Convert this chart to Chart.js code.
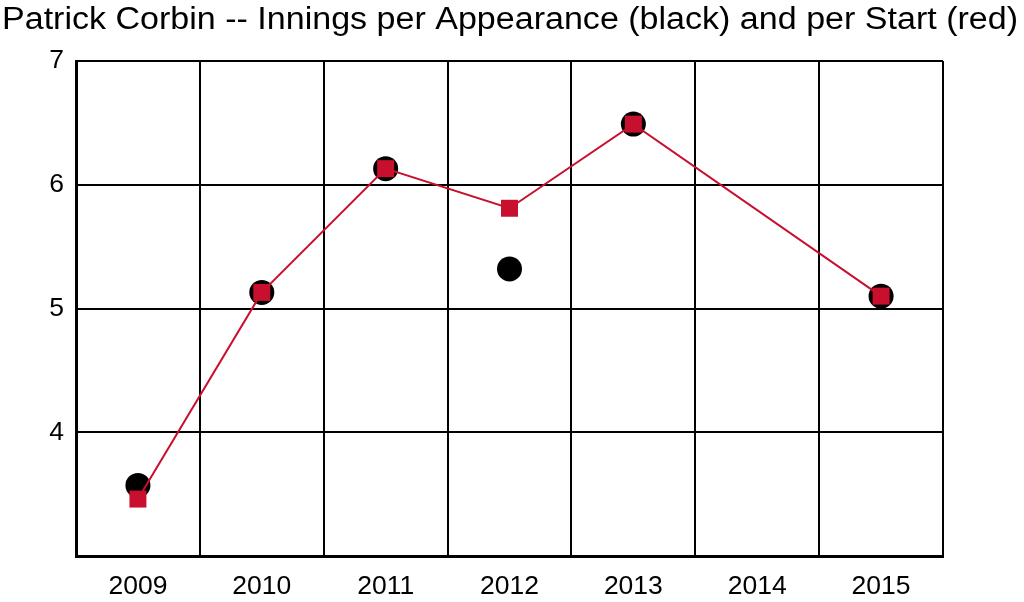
<!DOCTYPE html>
<html lang="en">
<head>
  <meta charset="UTF-8">
  <title>Patrick Corbin -- Innings per Appearance and per Start</title>
  <style>
    html, body { margin: 0; padding: 0; background: #fff; }
    #wrap { width: 1024px; height: 602px; }
  </style>
</head>
<body>
  <div id="wrap"><canvas id="myChart" width="1024" height="602"></canvas></div>

  <script src="https://cdn.jsdelivr.net/npm/chart.js"></script>
  <script>
    // Data
    var years = ['2009', '2010', '2011', '2012', '2013', '2014', '2015'];
    var perAppearance = [3.57, 5.13, 6.13, 5.32, 6.49, null, 5.10];
    var perStart = [3.46, 5.13, 6.13, 5.81, 6.49, null, 5.10];
    var yTicks = [4, 5, 6, 7];

    var titleText = 'Patrick Corbin -- Innings per Appearance (black) and per Start (red)';
    var fontFamily = '"Liberation Sans", Arial, sans-serif';

    // Title drawn by hand at top left, stretched to the reference width
    var titlePlugin = {
      id: 'topTitle',
      afterDraw: function (chart) {
        var ctx = chart.ctx;
        ctx.save();
        ctx.font = '31px ' + fontFamily;
        ctx.fillStyle = '#000';
        ctx.textBaseline = 'alphabetic';
        ctx.textAlign = 'left';
        var w = ctx.measureText(titleText).width;
        var sx = 1016 / w;
        ctx.translate(2, 29);
        ctx.scale(sx, 1);
        ctx.fillText(titleText, 0, 0);
        ctx.restore();
      }
    };

    var ctx = document.getElementById('myChart').getContext('2d');
    var myChart = new Chart(ctx, {
      type: 'line',
      data: {
        labels: years,
        datasets: [{
          label: 'per Start',
          data: perStart,
          borderColor: '#c8102e',
          backgroundColor: '#c8102e',
          borderWidth: 2,
          pointStyle: 'rect',
          pointRadius: 12,
          pointBorderWidth: 0,
          spanGaps: true,
          tension: 0
        }, {
          label: 'per Appearance',
          data: perAppearance,
          showLine: false,
          borderColor: '#000',
          backgroundColor: '#000',
          pointStyle: 'circle',
          pointRadius: 12.5,
          pointBorderWidth: 0
        }]
      },
      options: {
        responsive: false,
        animation: false,
        layout: { padding: { top: 61, right: 81, left: 0, bottom: 0 } },
        plugins: {
          legend: { display: false },
          title: { display: false },
          tooltip: { enabled: false }
        },
        scales: {
          x: {
            offset: true,
            grid: { offset: true, color: '#000', lineWidth: 2, drawTicks: false },
            border: { color: '#000', width: 3 },
            ticks: { color: '#000', font: { family: fontFamily, size: 26.5 }, padding: 15, maxRotation: 0 },
            afterFit: function (scale) { scale.height = 46; }
          },
          y: {
            min: 3,
            max: 7,
            grid: { color: '#000', lineWidth: 2, drawTicks: false },
            border: { color: '#000', width: 3 },
            afterBuildTicks: function (scale) {
              scale.ticks = [3].concat(yTicks).map(function (v) { return { value: v }; });
            },
            ticks: {
              color: '#000',
              font: { family: fontFamily, size: 26.5 },
              padding: 12,
              callback: function (v) { return yTicks.indexOf(v) >= 0 ? String(v) : ''; }
            },
            afterFit: function (scale) { scale.width = 76; }
          }
        }
      },
      plugins: [titlePlugin]
    });
  </script>
</body>
</html>
